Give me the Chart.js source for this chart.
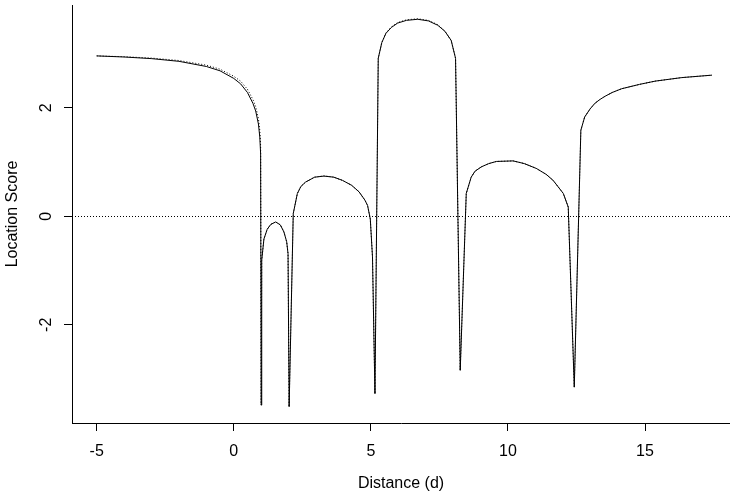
<!DOCTYPE html>
<html>
<head>
<meta charset="utf-8">
<script src="https://cdn.jsdelivr.net/npm/chart.js@4.4.1/dist/chart.umd.min.js"></script>
<style>
  html, body { margin: 0; padding: 0; background: #fff; }
  #wrap { width: 730px; height: 498px; }
</style>
</head>
<body>
<div id="wrap"><canvas id="scoreChart" width="730" height="498"></canvas></div>
<script>
// distance values (shared by both curves)
const distance = [
  -5, -4, -3, -2, -1, -0.5, 0, 0.25, 0.5, 0.7, 0.8, 0.9, 0.95, 0.98, 1.0,
  1.02, 1.1, 1.22, 1.35, 1.53, 1.7, 1.83, 1.93, 1.98, 2.02,
  2.17, 2.32, 2.45, 2.62, 2.95, 3.29, 3.65, 3.97, 4.3, 4.57, 4.78, 4.88, 4.98, 5.06, 5.15,
  5.27, 5.4, 5.55, 5.75, 5.98, 6.3, 6.71, 7.1, 7.44, 7.7, 7.93, 8.09, 8.26,
  8.48, 8.66, 8.8, 9.03, 9.3, 9.58, 10.19, 10.6, 11.04, 11.4, 11.65, 12.02, 12.2, 12.42,
  12.66, 12.8, 13.0, 13.17, 13.35, 13.54, 13.8, 14.15, 14.8, 15.37, 16.34, 17.44
];
// solid curve
const scoreSolid = [
  2.955, 2.935, 2.905, 2.855, 2.76, 2.68, 2.54, 2.44, 2.28, 2.08, 1.94, 1.70, 1.46, 1.15, -3.48,
  -0.81, -0.42, -0.24, -0.15, -0.105, -0.16, -0.29, -0.47, -0.69, -3.51,
  0.05, 0.42, 0.55, 0.63, 0.72, 0.74, 0.72, 0.66, 0.57, 0.45, 0.30, 0.20, -0.05, -0.75, -3.27,
  2.91, 3.20, 3.37, 3.48, 3.56, 3.61, 3.63, 3.60, 3.52, 3.41, 3.24, 2.91, -2.84,
  0.42, 0.72, 0.83, 0.91, 0.97, 1.01, 1.02, 0.97, 0.88, 0.77, 0.66, 0.42, 0.17, -3.15,
  1.585, 1.83, 1.98, 2.08, 2.15, 2.21, 2.28, 2.35, 2.43, 2.49, 2.555, 2.60
];
// dotted curve
const scoreDotted = [
  2.955, 2.94, 2.915, 2.87, 2.785, 2.71, 2.58, 2.49, 2.34, 2.15, 2.02, 1.80, 1.58, 1.30, -3.48,
  -0.81, -0.42, -0.24, -0.15, -0.105, -0.16, -0.29, -0.47, -0.69, -3.51,
  0.05, 0.42, 0.55, 0.63, 0.72, 0.745, 0.72, 0.66, 0.57, 0.45, 0.30, 0.20, -0.05, -0.75, -3.27,
  2.91, 3.20, 3.38, 3.49, 3.57, 3.62, 3.64, 3.61, 3.53, 3.41, 3.24, 2.91, -2.84,
  0.42, 0.72, 0.83, 0.91, 0.97, 1.01, 1.02, 0.97, 0.88, 0.77, 0.66, 0.42, 0.17, -3.15,
  1.585, 1.83, 1.98, 2.08, 2.15, 2.21, 2.28, 2.35, 2.43, 2.49, 2.555, 2.60
];
const xTicks = [-5, 0, 5, 10, 15];
const yTicks = [-2, 0, 2];

const font = { family: "'Liberation Sans', Arial, Helvetica, sans-serif", size: 16 };

const toPoints = (ys) => distance.map((d, i) => ({ x: d, y: ys[i] }));

// dotted reference line at score 0
const zeroLine = {
  id: "zeroLine",
  beforeDatasetsDraw(chart) {
    const { ctx, chartArea, scales } = chart;
    const y = Math.round(scales.y.getPixelForValue(0)) + 0.5;
    ctx.save();
    ctx.strokeStyle = "#000";
    ctx.lineWidth = 1;
    ctx.setLineDash([1, 2]);
    ctx.beginPath();
    ctx.moveTo(chartArea.left, y);
    ctx.lineTo(chartArea.right, y);
    ctx.stroke();
    ctx.restore();
  }
};

const ctx = document.getElementById("scoreChart").getContext("2d");

const scoreChart = new Chart(ctx, {
  type: "line",
  data: {
    datasets: [
      {
        label: "score",
        data: toPoints(scoreSolid),
        borderColor: "#000",
        borderWidth: 1,
        pointRadius: 0,
        tension: 0,
        fill: false,
      },
      {
        label: "score (dotted)",
        data: toPoints(scoreDotted),
        borderColor: "#000",
        borderWidth: 1,
        borderDash: [1, 2],
        pointRadius: 0,
        tension: 0,
        fill: false,
      }
    ]
  },
  options: {
    responsive: false,
    animation: false,
    layout: { padding: { top: 5, right: 0, bottom: 0, left: 0 } },
    plugins: {
      legend: { display: false },
      tooltip: { enabled: false },
    },
    scales: {
      x: {
        type: "linear",
        min: -5.9,
        max: 18.1,
        afterBuildTicks: (scale) => { scale.ticks = xTicks.map(v => ({ value: v })); },
        afterFit: (scale) => {
          scale.height = 75;
          scale.paddingLeft = 0;
          scale.paddingRight = 0;
        },
        grid: { drawOnChartArea: false, color: "#000", tickLength: 8 },
        border: { display: true, color: "#000", width: 1 },
        ticks: { color: "#000", font: font, padding: 11, maxRotation: 0 },
        title: {
          display: true,
          text: "Distance (d)",
          color: "#000",
          font: font,
          padding: { top: 0, bottom: 5 },
        },
      },
      y: {
        type: "linear",
        min: -3.81,
        max: 3.893,
        afterBuildTicks: (scale) => { scale.ticks = yTicks.map(v => ({ value: v })); },
        afterFit: (scale) => {
          scale.width = 72;
          scale.paddingTop = 0;
          scale.paddingBottom = 0;
        },
        grid: { drawOnChartArea: false, color: "#000", tickLength: 8 },
        border: { display: true, color: "#000", width: 1 },
        ticks: {
          color: "#000",
          font: font,
          padding: 10,
          minRotation: 90,
          maxRotation: 90,
          crossAlign: "center",
        },
        title: {
          display: true,
          text: "Location Score",
          color: "#000",
          font: font,
          padding: { top: 3, bottom: 0 },
        },
      },
    },
  },
  plugins: [zeroLine],
});
</script>
</body>
</html>
